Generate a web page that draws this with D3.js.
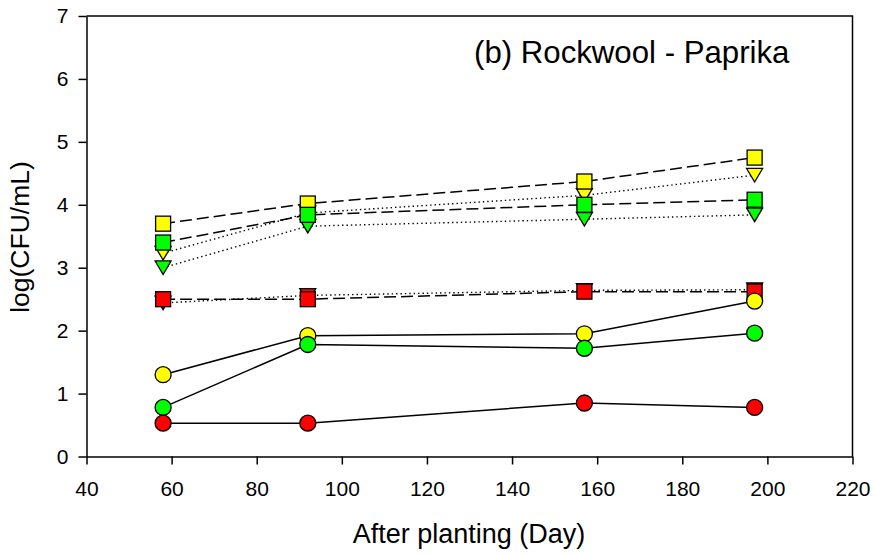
<!DOCTYPE html>
<html>
<head>
<meta charset="utf-8">
<script src="https://cdn.jsdelivr.net/npm/d3@7"></script>
<style>
  html, body { margin: 0; padding: 0; background: #fff; }
  svg { display: block; }
  text { font-family: Arial, "Liberation Sans", sans-serif; fill: #000; }
</style>
</head>
<body>
<svg id="chart" width="875" height="554"></svg>
<script>
// Sampling days after planting
const days = [58, 92, 157, 197];

// log(CFU/mL) per series: circles (solid), squares (dashed), triangles (dotted)
const yellowCircle   = [1.30, 1.92, 1.95, 2.47];
const greenCircle    = [0.78, 1.78, 1.72, 1.96];
const redCircle      = [0.53, 0.53, 0.85, 0.78];
const yellowSquare   = [3.70, 4.02, 4.37, 4.75];
const greenSquare    = [3.40, 3.84, 4.00, 4.08];
const redSquare      = [2.50, 2.50, 2.62, 2.62];
const yellowTriangle = [3.23, 3.87, 4.15, 4.47];
const greenTriangle  = [3.00, 3.66, 3.77, 3.84];
const redTriangle    = [2.44, 2.56, 2.64, 2.65];

const xTicks = [40, 60, 80, 100, 120, 140, 160, 180, 200, 220];
const yTicks = [0, 1, 2, 3, 4, 5, 6, 7];

const title = "(b) Rockwool - Paprika";
const xTitle = "After planting (Day)";
const yTitle = "log(CFU/mL)";

const YELLOW = "#ffff00", GREEN = "#00ff00", RED = "#ff0000";

// Drawing order: triangles under squares under circles
const series = [
  { values: yellowTriangle, color: YELLOW, shape: "triangle", dash: "1.4,3" },
  { values: greenTriangle,  color: GREEN,  shape: "triangle", dash: "1.4,3" },
  { values: redTriangle,    color: RED,    shape: "triangle", dash: "1.4,3" },
  { values: redSquare,      color: RED,    shape: "square",   dash: "12,5" },
  { values: yellowSquare,   color: YELLOW, shape: "square",   dash: "12,5" },
  { values: greenSquare,    color: GREEN,  shape: "square",   dash: "12,5" },
  { values: yellowCircle,   color: YELLOW, shape: "circle",   dash: null },
  { values: greenCircle,    color: GREEN,  shape: "circle",   dash: null },
  { values: redCircle,      color: RED,    shape: "circle",   dash: null }
];

const svg = d3.select("#chart");
const plot = { left: 86.5, right: 852.5, top: 16, bottom: 456.5 };

const x = d3.scaleLinear().domain([40, 220]).range([plot.left, plot.right]);
const y = d3.scaleLinear().domain([0, 7]).range([plot.bottom, plot.top]);

// Frame (top and right edges)
svg.append("path")
  .attr("d", `M${plot.left},${plot.top}H${plot.right}V${plot.bottom}`)
  .attr("fill", "none").attr("stroke", "#000").attr("stroke-width", 1.5);

// Axes
const xAxis = svg.append("g")
  .attr("transform", `translate(0,${plot.bottom})`)
  .call(d3.axisBottom(x).tickValues(xTicks).tickFormat(d3.format("d"))
    .tickSize(8).tickSizeOuter(0));
const yAxis = svg.append("g")
  .attr("transform", `translate(${plot.left},0)`)
  .call(d3.axisLeft(y).tickValues(yTicks).tickFormat(d3.format("d"))
    .tickSize(8).tickPadding(10).tickSizeOuter(0));

[xAxis, yAxis].forEach(g => {
  g.select(".domain").attr("stroke", "#000").attr("stroke-width", 1.5);
  g.selectAll(".tick line").attr("stroke", "#000").attr("stroke-width", 1.5);
  g.selectAll(".tick text")
    .attr("font-size", 21).attr("font-family", "Arial, 'Liberation Sans', sans-serif").attr("fill", "#000");
});
xAxis.selectAll(".tick text").attr("dy", "0.71em").attr("y", 24.5);

// Series lines
const line = d3.line().x((d, i) => x(days[i])).y(d => y(d));

series.forEach(s => {
  svg.append("path")
    .datum(s.values)
    .attr("d", line)
    .attr("fill", "none")
    .attr("stroke", "#000")
    .attr("stroke-width", s.dash === "1.4,3" ? 1.4 : 1.5)
    .attr("stroke-dasharray", s.dash);
});

// Markers
function drawMarker(g, shape, cx, cy, color) {
  const common = { fill: color, stroke: "#000", "stroke-width": 1.3 };
  let el;
  if (shape === "circle") {
    el = g.append("circle").attr("cx", cx).attr("cy", cy).attr("r", 8);
  } else if (shape === "square") {
    el = g.append("rect").attr("x", cx - 7.5).attr("y", cy - 7.5).attr("width", 15).attr("height", 15);
  } else {
    const w = 16, h = 13.5;
    el = g.append("path")
      .attr("d", `M${cx - w / 2},${cy - h / 2}L${cx + w / 2},${cy - h / 2}L${cx},${cy + h / 2}Z`);
  }
  Object.entries(common).forEach(([k, v]) => el.attr(k, v));
}

series.forEach(s => {
  const g = svg.append("g");
  s.values.forEach((v, i) => drawMarker(g, s.shape, x(days[i]), y(v), s.color));
});

// Titles
svg.append("text")
  .attr("x", 474).attr("y", 63)
  .attr("font-size", 31.2)
  .text(title);

svg.append("text")
  .attr("x", 469).attr("y", 543)
  .attr("text-anchor", "middle")
  .attr("font-size", 27)
  .text(xTitle);

svg.append("text")
  .attr("transform", "translate(29,237) rotate(-90)")
  .attr("text-anchor", "middle")
  .attr("font-size", 26.5)
  .text(yTitle);
</script>
</body>
</html>
